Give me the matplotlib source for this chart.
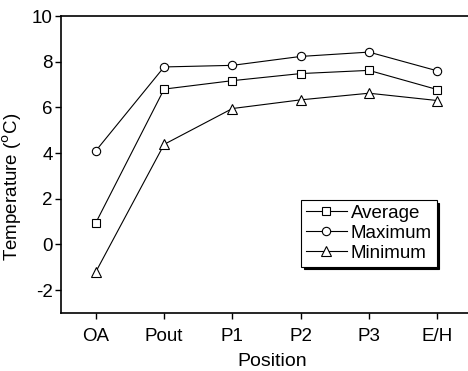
import matplotlib
matplotlib.use("Agg")
import matplotlib.pyplot as plt

plt.rcParams['font.family'] = ['Liberation Sans', 'DejaVu Sans']
plt.rcParams['axes.unicode_minus'] = False

positions = ["OA", "Pout", "P1", "P2", "P3", "E/H"]
average = [0.95, 6.8, 7.17, 7.48, 7.62, 6.78]
maximum = [4.1, 7.77, 7.84, 8.23, 8.42, 7.6]
minimum = [-1.2, 4.38, 5.95, 6.33, 6.62, 6.3]

fig = plt.figure(figsize=(4.68, 3.71), dpi=100)
ax = fig.add_axes([61/468, (371-313)/371, (468-61)/468, (313-16)/371])
x = list(range(len(positions)))
kw = dict(color='black', lw=0.8, mfc='white', mec='black', mew=0.8, ms=6)
ax.plot(x, average, marker='s', label='Average', **{**kw, 'ms': 5.5})
ax.plot(x, maximum, marker='o', label='Maximum', **kw)
ax.plot(x, minimum, marker='^', label='Minimum', **{**kw, 'ms': 7})

ax.set_xlim(-0.51, 5.45)
ax.set_ylim(-3, 10)
ax.set_xticks(x)
ax.set_xticklabels(positions)
ax.set_yticks([-2, 0, 2, 4, 6, 8, 10])
ax.spines['right'].set_visible(False)
for s in ['left', 'bottom', 'top']:
    ax.spines[s].set_linewidth(1.2)
ax.tick_params(direction='out', length=4, width=1, labelsize=13.5)
ax.tick_params(axis='x', pad=7)
ax.tick_params(axis='y', pad=2)
ax.set_xlabel('Position', fontsize=14)
ax.set_ylabel('Temperature ($^{\\mathrm{o}}$C)', fontsize=13.5)
ax.xaxis.set_label_coords(0.518, -0.135)
ax.yaxis.set_label_coords(-0.09, 0.426)

leg = ax.legend(loc='upper left', bbox_to_anchor=(0.59, 0.38), borderaxespad=0,
                fancybox=False, edgecolor='black', framealpha=1, fontsize=13.5,
                handlelength=2.2, handletextpad=0.2, labelspacing=0.15,
                borderpad=0.25, shadow={'color': 'black', 'alpha': 1})
leg.get_frame().set_linewidth(0.8)

fig.savefig('out.png', dpi=100)
